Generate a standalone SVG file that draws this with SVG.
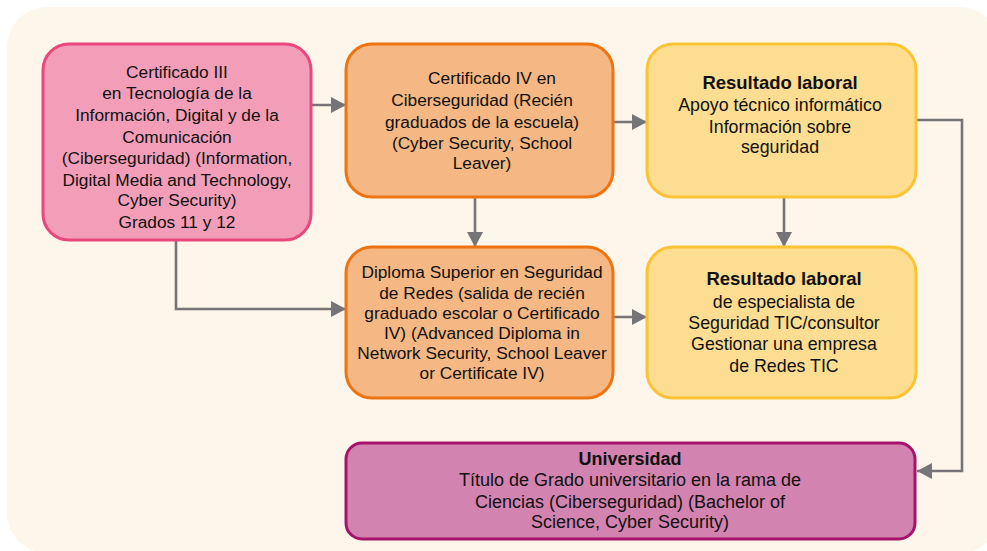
<svg xmlns="http://www.w3.org/2000/svg" width="987" height="551" viewBox="0 0 987 551">
<defs>
<marker id="ah" markerWidth="16" markerHeight="16" viewBox="0 0 16 16" refX="15" refY="8" orient="auto" markerUnits="userSpaceOnUse">
<path d="M0,0 L15,8 L0,16 Z" fill="#767476"/>
</marker>
<style>
.t{font-family:"Liberation Sans",Arial,sans-serif;font-size:17.3px;fill:#111;text-anchor:middle}
.y{font-size:17.8px}
.u{font-size:18px}
.b{font-weight:bold;font-size:18.5px}
.ub{font-weight:bold;font-size:18px}
.c{fill:none;stroke:#767476;stroke-width:2.6}
.pink{fill:#f39eb8;stroke:#ea477c;stroke-width:3}
.org{fill:#f5b783;stroke:#ee7412;stroke-width:3}
.yel{fill:#fcdd91;stroke:#fcc435;stroke-width:3}
.pur{fill:#d283b0;stroke:#a5136b;stroke-width:3}
</style>
</defs>
<rect x="7" y="7" width="993" height="546" rx="40" fill="#fef6ea"/>
<g id="connectors">
<path class="c" d="M311,105 H346" marker-end="url(#ah)"/>
<path class="c" d="M613,122 H647" marker-end="url(#ah)"/>
<path class="c" d="M475,197 V247" marker-end="url(#ah)"/>
<path class="c" d="M784,197 V247" marker-end="url(#ah)"/>
<path class="c" d="M176,240 V309 H346" marker-end="url(#ah)"/>
<path class="c" d="M613,317 H647" marker-end="url(#ah)"/>
<path class="c" d="M916,120 H962 V471 H917" marker-end="url(#ah)"/>
</g>
<g id="n1">
<rect class="pink" x="43" y="44" width="268" height="196" rx="26"/>
<text class="t"><tspan x="177" y="78">Certificado III</tspan><tspan x="177" y="99">en Tecnología de la</tspan><tspan x="177" y="121">Información, Digital y de la</tspan><tspan x="177" y="143">Comunicación</tspan><tspan x="177" y="164">(Ciberseguridad) (Information,</tspan><tspan x="177" y="186">Digital Media and Technology,</tspan><tspan x="177" y="206">Cyber Security)</tspan><tspan x="177" y="228">Grados 11 y 12</tspan></text>
</g>
<g id="n2">
<rect class="org" x="346" y="44" width="267" height="153" rx="26"/>
<text class="t"><tspan x="492" y="84">Certificado IV en</tspan><tspan x="482" y="106">Ciberseguridad (Recién</tspan><tspan x="482" y="128">graduados de la escuela)</tspan><tspan x="482" y="149">(Cyber Security, School</tspan><tspan x="482" y="169">Leaver)</tspan></text>
</g>
<g id="n3">
<rect class="yel" x="647" y="44" width="269" height="153" rx="26"/>
<text class="t y"><tspan class="b" x="780" y="89">Resultado laboral</tspan><tspan x="780" y="111">Apoyo técnico informático</tspan><tspan x="780" y="133">Información sobre</tspan><tspan x="780" y="153">seguridad</tspan></text>
</g>
<g id="n4">
<rect class="org" x="346" y="247" width="267" height="151" rx="26"/>
<text class="t"><tspan x="482" y="278">Diploma Superior en Seguridad</tspan><tspan x="482" y="299">de Redes (salida de recién</tspan><tspan x="482" y="319">graduado escolar o Certificado</tspan><tspan x="482" y="339">IV) (Advanced Diploma in</tspan><tspan x="482" y="359">Network Security, School Leaver</tspan><tspan x="482" y="379">or Certificate IV)</tspan></text>
</g>
<g id="n5">
<rect class="yel" x="647" y="247" width="269" height="151" rx="26"/>
<text class="t y"><tspan class="b" x="784" y="285">Resultado laboral</tspan><tspan x="784" y="308">de especialista de</tspan><tspan x="784" y="329">Seguridad TIC/consultor</tspan><tspan x="784" y="350">Gestionar una empresa</tspan><tspan x="784" y="372">de Redes TIC</tspan></text>
</g>
<g id="n6">
<rect class="pur" x="346" y="443" width="569" height="96" rx="16"/>
<text class="t u"><tspan class="ub" x="630" y="465">Universidad</tspan><tspan x="630" y="486">Título de Grado universitario en la rama de</tspan><tspan x="630" y="508">Ciencias (Ciberseguridad) (Bachelor of</tspan><tspan x="630" y="528">Science, Cyber Security)</tspan></text>
</g>
</svg>
